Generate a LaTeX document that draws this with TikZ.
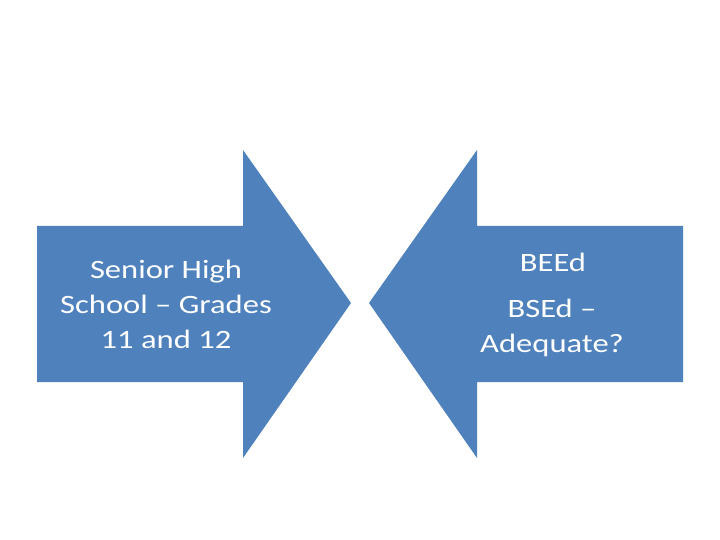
\documentclass[tikz,border=0pt]{standalone}
\usepackage{fontspec}
\setmainfont{Carlito}
\definecolor{arrowblue}{HTML}{4F81BD}
\tikzset{
  arrowshape/.style={fill=arrowblue, draw=none},
  arrowtext/.style={text=white, align=center, font=\fontsize{26.5}{35}\selectfont, inner sep=0pt, xscale=1.23}
}
\begin{document}
\begin{tikzpicture}[x=1pt,y=-1pt]
\useasboundingbox (0,0) rectangle (720,540);
% left arrow
\path[arrowshape] (37,226) -- (243,226) -- (243,150) -- (351,303) -- (243,458) -- (243,382) -- (37,382) -- cycle;
% right arrow
\path[arrowshape] (683,226) -- (477,226) -- (477,150) -- (369,303) -- (477,458) -- (477,382) -- (683,382) -- cycle;
\node[arrowtext] (lefttext) at (166,304) {Senior High\\School – Grades\\11 and 12};
\node[arrowtext] (beed) at (553,262) {BEEd};
\node[arrowtext] (bsed) at (552,328) {BSEd –\\Adequate?};
\end{tikzpicture}
\end{document}
